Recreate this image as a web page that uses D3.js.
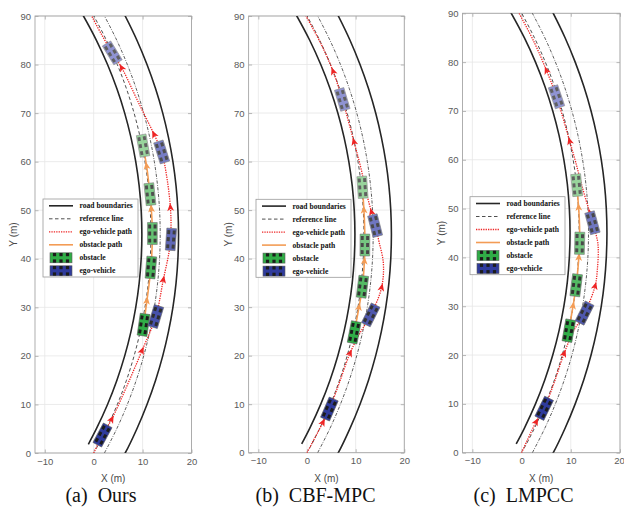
<!DOCTYPE html>
<html>
<head>
<meta charset="utf-8">
<script src="https://cdn.jsdelivr.net/npm/d3@7"></script>
<style>
  body { margin: 0; background: #fff; }
  svg { display: block; }
</style>
</head>
<body>
<svg id="fig" width="624" height="510"></svg>
<script>
// ---------------- road geometry (metres), shared by all three runs ----------------
const roadLeft = [[-1.09,1.8],[0.56,5],[2.83,10],[4.75,15],[6.34,20],[7.62,25],[8.60,30],[9.30,35],[9.71,40],[9.85,45],
  [9.71,50],[9.30,55],[8.60,60],[7.62,65],[6.34,70],[4.75,75],[2.83,80],[0.56,85],[-2.09,90],[-3.27,92]];
const roadCenter = [[2.20,0],[4.72,5],[6.88,10],[8.71,15],[10.23,20],[11.46,25],[12.40,30],[13.07,35],[13.47,40],[13.60,45],
  [13.47,50],[13.07,55],[12.40,60],[11.46,65],[10.23,70],[8.71,75],[6.88,80],[4.72,85],[2.20,90],[1.08,92]];
const roadRight = [[5.30,-1.8],[6.44,0],[8.84,5],[10.90,10],[12.66,15],[14.12,20],[15.29,25],[16.20,30],[16.84,35],[17.22,40],[17.35,45],
  [17.22,50],[16.84,55],[16.20,60],[15.29,65],[14.12,70],[12.66,75],[10.90,80],[8.84,85],[6.44,90],[5.38,92]];
const refLine = [[0.52,0.9],[2.61,5],[4.83,10],[6.71,15],[8.26,20],[9.51,25],[10.48,30],[11.16,35],[11.56,40],[11.70,45],
  [11.56,50],[11.16,55],[10.48,60],[9.51,65],[8.26,70],[6.71,75],[4.83,80],[2.61,85],[0.03,90],[-1.11,92]];

// ---------------- axes ticks and labels ----------------
const xTicks = [-10, 0, 10, 20];
const yTicks = [0, 10, 20, 30, 40, 50, 60, 70, 80, 90];
const xDomain = [-12, 20];
const yDomain = [0, 90];
const xLabel = "X (m)";
const yLabel = "Y (m)";
const legendLabels = ["road boundaries", "reference line", "ego-vehicle path", "obstacle path", "obstacle", "ego-vehicle"];
const captions = ["(a)  Ours", "(b)  CBF-MPC", "(c)  LMPCC"];

// ---------------- (a) Ours ----------------
const egoPathA = [[0,0],[1.8,3.7],[3.6,6.8],[6.7,13.6],[9.8,20.9],[12.7,28.1],[14.2,35.5],[15.5,42],[15.8,46],[15.7,50.4],
  [15.0,56.5],[13.9,62.0],[12.4,65.5],[9.0,72.5],[5.8,79.2],[3.8,82.4],[1.6,86.2],[-0.4,90]];
const egoArrowsA = [[3.6,6.8],[9.8,20.9],[14.2,35.5],[15.7,50.4],[12.4,65.5],[5.8,79.2]];
const egoCarsA = [[1.8,3.7],[12.7,28.1],[15.8,44.0],[13.9,62.0],[3.8,82.4]];
const obsPathA = [[10.2,26.4],[10.9,31.5],[11.7,38.2],[12.0,45.2],[11.8,50],[11.5,53.3],[10.9,58.5],[10.1,63.3]];
const obsArrowsA = [[10.7,31.2],[11.8,50.2],[10.8,59.0]];
const obsCarsA = [[10.2,26.4],[11.7,38.2],[12.0,45.2],[11.5,53.3],[10.1,63.3]];

// ---------------- (b) CBF-MPC ----------------
const egoPathB = [[0,0],[3.2,6.1],[4.6,9.0],[6.5,14],[8.8,20.4],[10.8,24.5],[13.1,28.4],[15.3,33.9],[15.7,39],[14.8,43.5],
  [14.0,46.8],[13.3,49.4],[12.1,54],[11.0,59],[9.7,63.9],[7.25,72.8],[5.4,78.5],[3.0,84],[-0.2,90]];
const egoArrowsB = [[3.2,6.1],[8.8,20.4],[15.3,33.9],[13.3,49.4],[9.7,63.9],[5.4,78.5]];
const egoCarsB = [[4.6,9.0],[13.1,28.4],[14.0,46.8],[7.25,72.8]];
const obsPathB = [[9.7,24.8],[10.6,29.5],[11.4,34.2],[11.8,39.5],[11.9,42.8],[11.8,48],[11.4,54.7]];
const obsArrowsB = [[11.0,29.8],[11.75,39.4],[11.8,49.9]];
const obsCarsB = [[9.7,24.8],[11.4,34.2],[11.9,42.8],[11.4,54.7]];

// ---------------- (c) LMPCC ----------------
const egoPathC = [[0,0],[2.9,6.2],[4.6,9.1],[6.5,14],[8.6,20.2],[10.5,24.8],[12.8,28.6],[14.9,34.0],[15.4,37.5],[15.5,42.9],
  [14.4,47.1],[13.9,49.0],[12.3,54.5],[11.0,59.5],[9.8,63.7],[7.1,72.9],[5.1,78.2],[2.6,84],[-0.5,90]];
const egoArrowsC = [[2.9,6.2],[8.6,20.2],[14.9,34.0],[13.9,49.0],[9.8,63.7],[5.1,78.2]];
const egoCarsC = [[4.6,9.1],[12.8,28.6],[14.4,47.1],[7.1,72.9]];
const obsPathC = [[9.6,25.0],[10.4,29.7],[11.1,34.3],[11.6,39.5],[11.8,42.9],[11.7,48.5],[11.2,54.8]];
const obsArrowsC = [[10.5,29.9],[11.5,39.9],[11.5,50.1]];
const obsCarsC = [[9.6,25.0],[11.1,34.3],[11.8,42.9],[11.2,54.8]];

// ---------------- layout and style ----------------
const runs = [
  { egoPath: egoPathA, egoArrows: egoArrowsA, egoCars: egoCarsA, obsPath: obsPathA, obsArrows: obsArrowsA, obsCars: obsCarsA },
  { egoPath: egoPathB, egoArrows: egoArrowsB, egoCars: egoCarsB, obsPath: obsPathB, obsArrows: obsArrowsB, obsCars: obsCarsB },
  { egoPath: egoPathC, egoArrows: egoArrowsC, egoCars: egoCarsC, obsPath: obsPathC, obsArrows: obsArrowsC, obsCars: obsCarsC }
];
const frames = [
  { left: 35,    right: 191.5, top: 16,   bottom: 453,   yLabelX: 13.5,  legendX: 43,  legendY: 199,   captionX: 101 },
  { left: 248.6, right: 404.3, top: 16,   bottom: 452.7, yLabelX: 228.5, legendX: 256, legendY: 199.3, captionX: 315.5 },
  { left: 462.5, right: 620,   top: 13.3, bottom: 452.7, yLabelX: 441.5, legendX: 470, legendY: 196.7, captionX: 523.5 }
];

const C = {
  grid: "#e6e6e6", frame: "#a6a6a6", tickText: "#5a5a5a",
  road: "#262626", red: "#ee2424", orange: "#f39c55",
  ego: "#2f3b9c", egoFaded: "#8f93d2",
  obs: "#30ad47", obsFaded: "#98d49c",
  wheel: "#1c1c1c"
};
const CAR_W = 2.0, CAR_L = 4.5;       // vehicle footprint (m)
const sansFont = "'Liberation Sans', Arial, sans-serif";
const serifFont = "'Liberation Serif', 'Times New Roman', serif";

const svg = d3.select("#fig");

// arrowhead pointing toward -y, notched at the back
const arrowGlyph = "M0,-5 L3.4,2.8 L0,0.8 L-3.4,2.8 Z";

function tangentAt(pathNode, px, py) {
  const total = pathNode.getTotalLength();
  let best = 0, bestD = Infinity;
  for (let s = 0; s <= total; s += 0.5) {
    const p = pathNode.getPointAtLength(s);
    const d = (p.x - px) ** 2 + (p.y - py) ** 2;
    if (d < bestD) { bestD = d; best = s; }
  }
  const a = pathNode.getPointAtLength(Math.max(0, best - 2));
  const b = pathNode.getPointAtLength(Math.min(total, best + 2));
  const p = pathNode.getPointAtLength(best);
  return { x: p.x, y: p.y, angle: Math.atan2(b.y - a.y, b.x - a.x) * 180 / Math.PI };
}

function drawCar(g, cx, cy, angle, k, base, faded, fade) {
  const fill = d3.interpolateRgb(base, faded)(fade);
  const wheel = d3.interpolateRgb(C.wheel, "#ffffff")(fade * 0.3);
  const edge = d3.interpolateRgb("#5a5a5a", "#ffffff")(fade * 0.3);
  const w = CAR_W * k, l = CAR_L * k;
  const car = g.append("g").attr("transform", `translate(${cx},${cy}) rotate(${angle + 90})`);
  car.append("rect").attr("x", -w / 2).attr("y", -l / 2).attr("width", w).attr("height", l)
    .attr("fill", fill).attr("stroke", edge).attr("stroke-width", 0.6);
  const sw = 0.6 * k, sl = 0.8 * k;
  [-1.45, 0, 1.45].forEach(r => {
    [-0.55, 0.55].forEach(c => {
      car.append("rect").attr("x", c * k - sw / 2).attr("y", r * k - sl / 2)
        .attr("width", sw).attr("height", sl).attr("fill", wheel);
    });
  });
}

function drawPanel(idx) {
  const f = frames[idx], run = runs[idx];
  const x = d3.scaleLinear().domain(xDomain).range([f.left, f.right]);
  const y = d3.scaleLinear().domain(yDomain).range([f.bottom, f.top]);
  const k = (f.right - f.left) / (xDomain[1] - xDomain[0]);
  const g = svg.append("g");

  // grid
  g.append("g").selectAll("line").data(xTicks).join("line")
    .attr("x1", d => x(d)).attr("x2", d => x(d)).attr("y1", f.top).attr("y2", f.bottom)
    .attr("stroke", C.grid).attr("stroke-width", 0.8);
  g.append("g").selectAll("line").data(yTicks).join("line")
    .attr("x1", f.left).attr("x2", f.right).attr("y1", d => y(d)).attr("y2", d => y(d))
    .attr("stroke", C.grid).attr("stroke-width", 0.8);

  // axes with inward ticks on all four sides
  const styleAxis = sel => {
    sel.select(".domain").remove();
    sel.selectAll(".tick line").attr("stroke", C.frame).attr("stroke-width", 0.8);
    sel.selectAll(".tick text").attr("fill", C.tickText)
      .attr("font-family", sansFont).attr("font-size", 9.5);
  };
  const xAxisG = g.append("g").attr("transform", `translate(0,${f.bottom})`)
    .call(d3.axisBottom(x).tickValues(xTicks).tickSize(-3.5).tickPadding(5)).call(styleAxis);
  // keep the last label inside the page at the far right
  xAxisG.selectAll(".tick text").filter(d => x(d) + 6 > 624).attr("text-anchor", "end").attr("dx", "0.45em");
  g.append("g").attr("transform", `translate(0,${f.top})`)
    .call(d3.axisTop(x).tickValues(xTicks).tickSize(-3.5).tickFormat("")).call(styleAxis);
  g.append("g").attr("transform", `translate(${f.left},0)`)
    .call(d3.axisLeft(y).tickValues(yTicks).tickSize(-3.5).tickPadding(4)).call(styleAxis);
  g.append("g").attr("transform", `translate(${f.right},0)`)
    .call(d3.axisRight(y).tickValues(yTicks).tickSize(-3.5).tickFormat("")).call(styleAxis);

  g.append("rect").attr("x", f.left).attr("y", f.top)
    .attr("width", f.right - f.left).attr("height", f.bottom - f.top)
    .attr("fill", "none").attr("stroke", C.frame).attr("stroke-width", 0.9);

  // axis titles
  g.append("text").attr("x", (f.left + f.right) / 2).attr("y", 481.5)
    .attr("text-anchor", "middle").attr("font-family", sansFont).attr("font-size", 10)
    .attr("fill", "#4a4a4a").text(xLabel);
  g.append("text").attr("transform", `translate(${f.yLabelX + 3.5},${(f.top + f.bottom) / 2}) rotate(-90)`)
    .attr("text-anchor", "middle").attr("font-family", sansFont).attr("font-size", 10)
    .attr("fill", "#4a4a4a").text(yLabel);

  // caption
  svg.append("text").attr("x", f.captionX).attr("y", 501.5).attr("text-anchor", "middle")
    .attr("font-family", serifFont).attr("font-size", 20).attr("fill", "#111")
    .attr("xml:space", "preserve").style("white-space", "pre").text(captions[idx]);

  // plot contents clipped to the axes box
  const clipId = "clip" + idx;
  svg.append("clipPath").attr("id", clipId).append("rect")
    .attr("x", f.left).attr("y", f.top).attr("width", f.right - f.left).attr("height", f.bottom - f.top);
  const plot = g.append("g").attr("clip-path", `url(#${clipId})`);

  const line = d3.line().x(d => x(d[0])).y(d => y(d[1])).curve(d3.curveCatmullRom.alpha(0.5));

  [roadLeft, roadRight].forEach(b => plot.append("path").attr("d", line(b))
    .attr("fill", "none").attr("stroke", C.road).attr("stroke-width", 1.6));
  plot.append("path").attr("d", line(roadCenter)).attr("fill", "none")
    .attr("stroke", "#2a2a2a").attr("stroke-width", 0.75).attr("stroke-dasharray", "3.2,1.4,0.8,1.4");
  plot.append("path").attr("d", line(refLine)).attr("fill", "none")
    .attr("stroke", "#222").attr("stroke-width", 0.8).attr("stroke-dasharray", "3.5,2.5");

  const obsPathEl = plot.append("path").attr("d", line(run.obsPath)).attr("fill", "none")
    .attr("stroke", C.orange).attr("stroke-width", 1.6);
  const egoPathEl = plot.append("path").attr("d", line(run.egoPath)).attr("fill", "none")
    .attr("stroke", C.red).attr("stroke-width", 1.3).attr("stroke-dasharray", "1.3,1.1");

  const placeArrows = (pts, pathEl, color) => {
    pts.forEach(p => {
      const t = tangentAt(pathEl.node(), x(p[0]), y(p[1]));
      plot.append("path").attr("d", arrowGlyph)
        .attr("transform", `translate(${t.x},${t.y}) rotate(${t.angle + 90})`)
        .attr("fill", color);
    });
  };
  placeArrows(run.obsArrows, obsPathEl, C.orange);
  placeArrows(run.egoArrows, egoPathEl, C.red);

  const placeCars = (pts, pathEl, base, faded) => {
    pts.forEach((p, i) => {
      const t = tangentAt(pathEl.node(), x(p[0]), y(p[1]));
      drawCar(plot, x(p[0]), y(p[1]), t.angle, k, base, faded, pts.length > 1 ? i / (pts.length - 1) : 0);
    });
  };
  placeCars(run.obsCars, obsPathEl, C.obs, C.obsFaded);
  placeCars(run.egoCars, egoPathEl, C.ego, C.egoFaded);

  // legend
  const lg = g.append("g").attr("transform", `translate(${f.legendX},${f.legendY})`);
  lg.append("rect").attr("width", 95).attr("height", 78).attr("fill", "#fff")
    .attr("stroke", "#9a9a9a").attr("stroke-width", 0.8);
  const rowY = i => 6.8 + i * 13;
  const sx0 = 6, sx1 = 30;
  lg.append("line").attr("x1", sx0).attr("x2", sx1).attr("y1", rowY(0)).attr("y2", rowY(0))
    .attr("stroke", C.road).attr("stroke-width", 1.6);
  lg.append("line").attr("x1", sx0).attr("x2", sx1).attr("y1", rowY(1)).attr("y2", rowY(1))
    .attr("stroke", "#222").attr("stroke-width", 0.8).attr("stroke-dasharray", "3.5,2.5");
  lg.append("line").attr("x1", sx0).attr("x2", sx1).attr("y1", rowY(2)).attr("y2", rowY(2))
    .attr("stroke", C.red).attr("stroke-width", 1.3).attr("stroke-dasharray", "1.3,1.1");
  lg.append("line").attr("x1", sx0).attr("x2", sx1).attr("y1", rowY(3)).attr("y2", rowY(3))
    .attr("stroke", C.orange).attr("stroke-width", 1.6);
  [[4, C.obs], [5, C.ego]].forEach(([r, col]) => {
    const ic = lg.append("g").attr("transform", `translate(${(sx0 + sx1) / 2},${rowY(r)})`);
    ic.append("rect").attr("x", -11).attr("y", -5).attr("width", 22).attr("height", 10)
      .attr("fill", col).attr("stroke", "#5a5a5a").attr("stroke-width", 0.6);
    [-6.5, 0, 6.5].forEach(cx => [-3.2, 3.2].forEach(cy => {
      ic.append("rect").attr("x", cx - 1.6).attr("y", cy - 1.6).attr("width", 3.2).attr("height", 3.2)
        .attr("fill", C.wheel);
    }));
  });
  lg.selectAll("text.lab").data(legendLabels).join("text").attr("class", "lab")
    .attr("x", 36.5).attr("y", (d, i) => rowY(i) + 2.6)
    .attr("font-family", serifFont).attr("font-weight", "bold").attr("font-size", 7.6)
    .attr("fill", "#111").text(d => d);
}

[0, 1, 2].forEach(drawPanel);
</script>
</body>
</html>
